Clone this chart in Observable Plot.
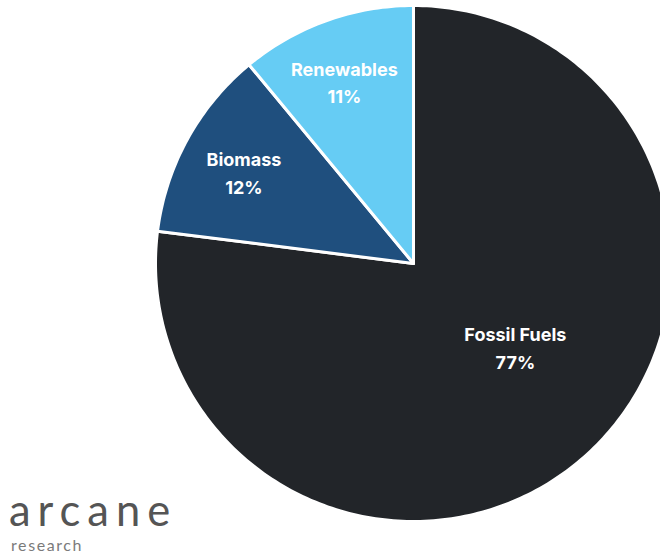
<!DOCTYPE html>
<html>
<head>
<meta charset="utf-8">
<script src="https://cdn.jsdelivr.net/npm/d3@7"></script>
<script src="https://cdn.jsdelivr.net/npm/@observablehq/plot@0.6"></script>
<style>
  html, body { margin: 0; padding: 0; background: #fff; overflow: hidden; }
  #wrap { position: relative; width: 660px; height: 554px; }
  .logo { position: absolute; font-family: Lato, "Open Sans", sans-serif; white-space: nowrap; }
  #logo-big { left: 9px; top: 494px; height: 30px; line-height: 30px; font-size: 43.5px; font-weight: 400; letter-spacing: 7px; color: #555; }
  #logo-small { left: 11px; top: 537px; height: 16px; line-height: 16px; font-size: 16px; font-weight: 400; color: #7a7a7a; letter-spacing: 1.6px; }
</style>
</head>
<body>
<div id="wrap">
  <div id="chart"></div>
  <div class="logo" id="logo-big">arcane</div>
  <div class="logo" id="logo-small">research</div>
</div>
<script>
const categories = ["Fossil Fuels", "Biomass", "Renewables"];
const shares = [77, 12, 11];
const colors = ["#222529", "#1f4f7e", "#66ccf4"];

// geometry (pixels)
const W = 660, H = 554, cx = 413, cy = 263, R = 258;

const total = d3.sum(shares);
const polys = [];
const labels = [];
let acc = 0;
categories.forEach((name, i) => {
  const a0 = acc / total * 2 * Math.PI;
  acc += shares[i];
  const a1 = acc / total * 2 * Math.PI;
  const n = Math.max(4, Math.ceil((a1 - a0) / (Math.PI / 180)));
  polys.push({name, x: 0, y: 0});
  for (let k = 0; k <= n; k++) {
    const a = a0 + (a1 - a0) * k / n;
    polys.push({name, x: Math.sin(a), y: Math.cos(a)});
  }
  polys.push({name, x: 0, y: 0});
  const big = shares[i] > 50;
  const am = (a0 + a1) / 2 - (big ? 0.14 : 0.025);
  const lr = big ? 0.52 : 0.74;
  labels.push({name, value: shares[i], x: lr * Math.sin(am), y: lr * Math.cos(am)});
});

const chart = Plot.plot({
  width: W,
  height: H,
  margin: 0,
  x: {type: "linear", domain: [-cx / R, (W - cx) / R], range: [0, W], axis: null},
  y: {type: "linear", domain: [cy / R, -(H - cy) / R], range: [0, H], axis: null},
  color: {domain: categories, range: colors},
  style: {background: "transparent", overflow: "hidden"},
  marks: [
    Plot.line(polys, {x: "x", y: "y", z: "name", fill: "name", stroke: "white", strokeWidth: 3, strokeLinejoin: "round", clip: true}),
    Plot.text(labels, {
      x: "x", y: "y",
      text: d => `${d.name}\n${d.value}%`,
      fill: "white",
      fontSize: 18,
      fontWeight: 700,
      fontFamily: "Inter, 'Open Sans', sans-serif",
      lineHeight: 1.55,
      dy: -5
    })
  ]
});
document.getElementById("chart").appendChild(chart);
</script>
</body>
</html>
